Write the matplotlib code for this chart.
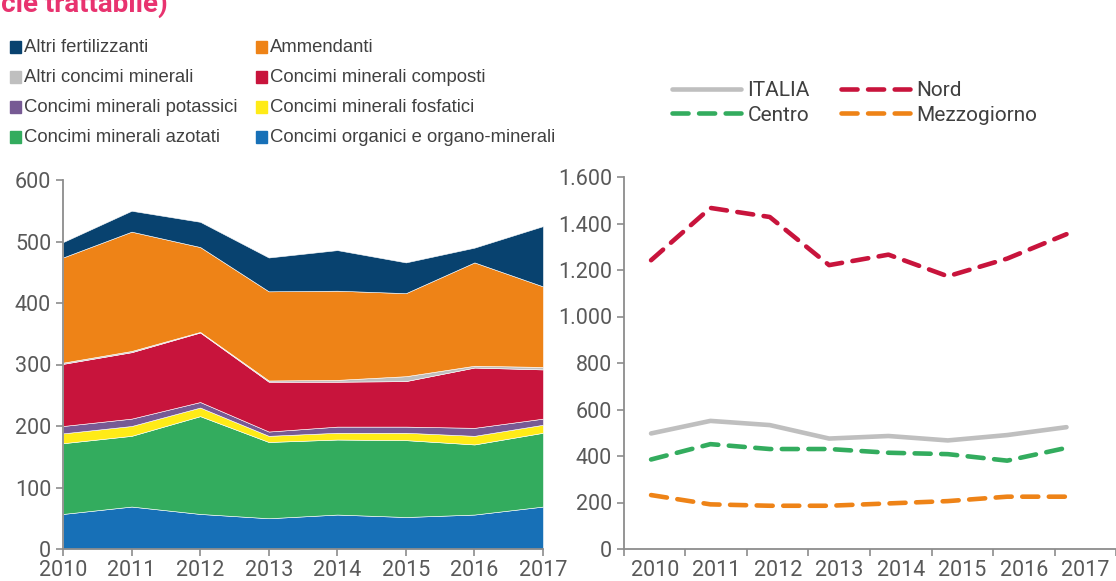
import numpy as np
import matplotlib
matplotlib.use("Agg")
import matplotlib.pyplot as plt
from matplotlib.patches import Rectangle
from matplotlib.ticker import FuncFormatter

# data
years = [2010, 2011, 2012, 2013, 2014, 2015, 2016, 2017]

organici = [57, 69, 57, 50, 56, 52, 56, 69]
azotati = [115, 115, 159, 124, 122, 125, 114, 120]
fosfatici = [16, 16, 14, 10, 11, 12, 14, 13]
potassici = [12, 12, 9, 7, 10, 10, 13, 10]
composti = [101, 108, 113, 81, 73, 74, 98, 80]
altri_minerali = [2, 2, 1, 2, 3, 8, 3, 4]
ammendanti = [171, 194, 138, 145, 145, 135, 168, 131]
altri_fertilizzanti = [25, 34, 41, 55, 66, 50, 24, 98]

italia = [497, 551, 533, 475, 486, 467, 490, 524]
nord = [1242, 1467, 1428, 1221, 1266, 1173, 1249, 1354]
centro = [385, 451, 430, 430, 414, 408, 380, 435]
mezzogiorno = [232, 192, 186, 186, 196, 206, 225, 225]

stack_labels = ["Concimi organici e organo-minerali", "Concimi minerali azotati",
                "Concimi minerali fosfatici", "Concimi minerali potassici",
                "Concimi minerali composti", "Altri concimi minerali",
                "Ammendanti", "Altri fertilizzanti"]
stack_colors = ["#1770b7", "#33ac5e", "#ffeb17", "#775a94",
                "#c8143c", "#bfbfbf", "#ee8317", "#08426f"]

TICK_C = "#595959"
SPINE_C = "#8c8c8c"
TXT_C = "#404040"
TICK_FS = 15.5

W, H = 1116, 581
fig = plt.figure(figsize=(W / 100, H / 100), dpi=100)


def fx(px):
    return px / W


def fy(py):
    return 1 - py / H


def style_axes(ax):
    for s in ["top", "right"]:
        ax.spines[s].set_visible(False)
    for s in ["left", "bottom"]:
        ax.spines[s].set_color(SPINE_C)
        ax.spines[s].set_linewidth(1.3)
    ax.tick_params(colors=SPINE_C, labelcolor=TICK_C, length=5, width=1.2,
                   labelsize=TICK_FS)
    for lab in ax.get_xticklabels() + ax.get_yticklabels():
        lab.set_fontfamily("Roboto")


# title, clipped at the top of the picture
fig.text(fx(168), fy(12), "(kg di superficie trattabile)", ha="right", va="baseline",
         fontsize=20, fontweight="bold", color="#e8336f", family="Roboto")

# left: stacked area
ax1 = fig.add_axes([fx(63), fy(549), fx(543) - fx(63), fy(180) - fy(549)])
ys = [organici, azotati, fosfatici, potassici, composti, altri_minerali,
      ammendanti, altri_fertilizzanti]
ax1.stackplot(years, *ys, colors=stack_colors, labels=stack_labels,
              edgecolor="white", linewidth=0.4)
ax1.set_xlim(2010, 2017)
ax1.set_ylim(0, 600)
ax1.set_xticks(years)
ax1.set_yticks(range(0, 601, 100))
style_axes(ax1)
ax1.tick_params(axis="x", pad=3)

# left legend, row-major as in the reference
order = [7, 6, 5, 4, 3, 2, 1, 0]
col_x = [10, 256]
row_y = [47, 77, 107, 137]
for k, idx in enumerate(order):
    r, c = k // 2, k % 2
    x0, y0 = col_x[c], row_y[r]
    fig.add_artist(Rectangle((fx(x0), fy(y0 + 5.5)), 11 / W, 11 / H,
                             transform=fig.transFigure, color=stack_colors[idx]))
    fig.text(fx(x0 + 14), fy(y0), stack_labels[idx], ha="left", va="center",
             fontsize=13.3, color=TXT_C, family="Liberation Sans")

# right: lines
ax2 = fig.add_axes([fx(624), fy(549), 1 - fx(624), fy(177) - fy(549)])
xpos = -0.06 + np.arange(len(years)) * 0.965
dash = (3.5, 2.3)
l_it, = ax2.plot(xpos, italia, color="#bfbfbf", lw=3.3, solid_capstyle="round", label="ITALIA")
l_no, = ax2.plot(xpos, nord, color="#c8143c", lw=3.3, dashes=dash,
                 dash_capstyle="round", label="Nord")
l_ce, = ax2.plot(xpos, centro, color="#33ac5e", lw=3.3, dashes=dash,
                 dash_capstyle="round", label="Centro")
l_me, = ax2.plot(xpos, mezzogiorno, color="#ee8317", lw=3.3, dashes=dash,
                 dash_capstyle="round", label="Mezzogiorno")
ax2.set_xlim(-0.5, -0.5 + (W - 624) / 62.3)
ax2.set_ylim(0, 1600)
ax2.set_yticks(range(0, 1601, 200))
ax2.yaxis.set_major_formatter(FuncFormatter(lambda v, p: f"{int(v):,}".replace(",", ".")))
ax2.set_xticks(np.arange(len(years) + 1) - 0.5)
ax2.set_xticklabels([])
ax2.set_xticks(np.arange(len(years)), minor=True)
ax2.set_xticklabels([str(y) for y in years], minor=True)
style_axes(ax2)
ax2.tick_params(axis="x", which="minor", length=0, pad=8, labelsize=TICK_FS,
                labelcolor=TICK_C)
for lab in ax2.get_xticklabels(minor=True):
    lab.set_fontfamily("Roboto")

fig.legend([l_it, l_ce, l_no, l_me], ["ITALIA", "Centro", "Nord", "Mezzogiorno"],
           ncol=2, loc="upper left", bbox_to_anchor=(fx(664), fy(73)),
           frameon=False, handlelength=3.3, handletextpad=0.3,
           columnspacing=1.5, labelspacing=0.25, borderaxespad=0,
           prop={"family": "Roboto", "size": 15}, labelcolor=TXT_C)

fig.savefig("out.png", dpi=100)
